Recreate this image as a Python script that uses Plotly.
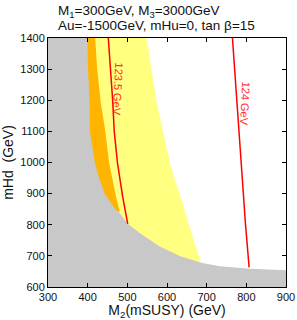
import plotly.graph_objects as go

# Gray excluded region boundary (M2, mHd)
gray_m2 = [399, 401, 405, 406, 418, 429, 443, 470, 481, 501, 532, 582, 632, 686, 733, 809, 900]
gray_mhd = [1400, 1300, 1200, 1100, 1000, 950, 900, 850, 837, 803, 773, 730, 700, 678, 667, 659, 654]

# Orange region right edge
orange_m2 = [419, 424, 433, 444, 454, 471, 481]
orange_mhd = [1400, 1300, 1193, 1105, 999, 892, 842]

# Yellow region right edge
yellow_m2 = [549, 561, 573, 590, 607, 620, 637, 655, 670, 686]
yellow_mhd = [1400, 1300, 1200, 1100, 1000, 944, 880, 800, 740, 678]

# Higgs mass contours
h1235_m2 = [452, 458, 463, 467, 475, 488, 501]
h1235_mhd = [1400, 1300, 1200, 1100, 1000, 892, 803]
h124_m2 = [765, 776, 786, 798, 807]
h124_mhd = [1400, 1200, 1000, 800, 663]

x_ticks = [300, 400, 500, 600, 700, 800, 900]
y_ticks = [600, 700, 800, 900, 1000, 1100, 1200, 1300, 1400]

fig = go.Figure()

# yellow
fig.add_trace(go.Scatter(
    x=[300] + yellow_m2 + [300], y=[1400] + yellow_mhd + [yellow_mhd[-1]],
    fill="toself", fillcolor="#ffff80", line=dict(width=0), mode="lines",
    hoverinfo="skip", showlegend=False))
# orange
fig.add_trace(go.Scatter(
    x=[300] + orange_m2 + [300], y=[1400] + orange_mhd + [orange_mhd[-1]],
    fill="toself", fillcolor="#ffb400", line=dict(width=0), mode="lines",
    hoverinfo="skip", showlegend=False))
# gray
fig.add_trace(go.Scatter(
    x=[300] + gray_m2 + [900, 300], y=[1400] + gray_mhd + [600, 600],
    fill="toself", fillcolor="#c8c8c8", line=dict(width=0), mode="lines",
    hoverinfo="skip", showlegend=False))
# contours
fig.add_trace(go.Scatter(x=h1235_m2, y=h1235_mhd, mode="lines",
                         line=dict(color="#ff0000", width=1.5),
                         hoverinfo="skip", showlegend=False))
fig.add_trace(go.Scatter(x=h124_m2, y=h124_mhd, mode="lines",
                         line=dict(color="#ff0000", width=1.5),
                         hoverinfo="skip", showlegend=False))

fig.add_annotation(x=477, y=1237, text="123.5 GeV", showarrow=False, textangle=93,
                   font=dict(size=11, color="#ff2a2a"))
fig.add_annotation(x=796, y=1190, text="124 GeV", showarrow=False, textangle=93,
                   font=dict(size=11, color="#ff2a2a"))

fig.add_annotation(xref="paper", yref="paper", x=0.035, y=1.108, xanchor="left", yanchor="middle",
                   text="M<sub>1</sub>=300GeV, M<sub>3</sub>=3000GeV", showarrow=False,
                   font=dict(size=13.5, color="#111"))
fig.add_annotation(xref="paper", yref="paper", x=0.035, y=1.05, xanchor="left", yanchor="middle",
                   text="Au=-1500GeV, mHu=0, tan β=15", showarrow=False,
                   font=dict(size=13.5, color="#111"))

axis_common = dict(showgrid=False, zeroline=False, showline=True, linecolor="black", linewidth=1,
                   mirror="ticks", ticks="inside", ticklen=4, tickcolor="black",
                   tickfont=dict(size=11, color="#111"))

fig.update_xaxes(range=[300, 900], tickvals=x_ticks, ticktext=[str(v) for v in x_ticks],
                 title=dict(text="M<sub>2</sub>(mSUSY) (GeV)", font=dict(size=14, color="#111"), standoff=2),
                 **axis_common)
fig.update_yaxes(range=[600, 1400], tickvals=y_ticks, ticktext=[str(v) for v in y_ticks],
                 title=dict(text="mHd  (GeV)", font=dict(size=14, color="#111"), standoff=8),
                 **axis_common)

fig.update_layout(width=297, height=320, margin=dict(l=48, r=11, t=38, b=33, autoexpand=False),
                  plot_bgcolor="white", paper_bgcolor="white",
                  font=dict(family="Liberation Sans, Arial, sans-serif"))

fig.write_html("out.html", config={"displayModeBar": False},
               post_script="document.body.style.margin='0';")
